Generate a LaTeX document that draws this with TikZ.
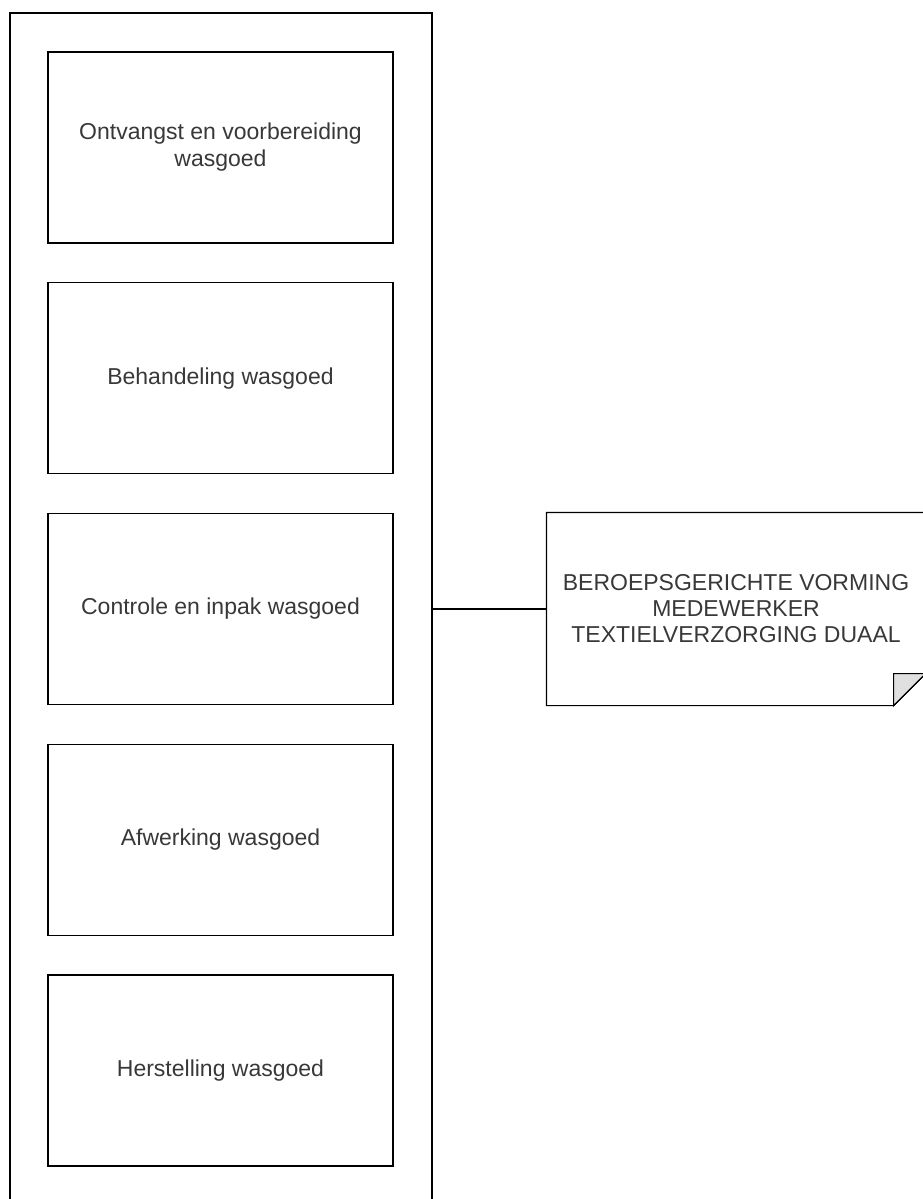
\documentclass[tikz,border=0pt]{standalone}
\usepackage{fontspec}
\setmainfont{Liberation Sans}
\usetikzlibrary{positioning,calc}

\begin{document}
\begin{tikzpicture}[x=1pt,y=-1pt,line width=1.2pt,
  box/.style={draw,minimum width=345pt,minimum height=191pt,align=center,
    font=\fontsize{23}{27}\selectfont,text=black!78},
  notetext/.style={minimum width=378pt,minimum height=192pt,align=center,
    font=\fontsize{23}{26}\selectfont,text=black!78}]
\useasboundingbox (0,0) rectangle (923,1199);
\node [draw,minimum width=422pt,minimum height=1192pt] (lane) at (221,609) {};
\node [box] (ontvangst) at (220.5,147.5) {Ontvangst en voorbereiding\\wasgoed};
\node [box] (behandeling) at (220.5,378.25) {Behandeling wasgoed};
\node [box] (controle) at (220.5,609) {Controle en inpak wasgoed};
\node [box] (afwerking) at (220.5,839.75) {Afwerking wasgoed};
\node [box] (herstelling) at (220.5,1070.5) {Herstelling wasgoed};
\node [notetext] (vorming) at (736,609) {BEROEPSGERICHTE VORMING\\MEDEWERKER\\TEXTIELVERZORGING DUAAL};
% note outline with folded corner
\draw (vorming.north west) -- (vorming.north east)
  -- ($(vorming.south east)+(0,-32)$) -- ($(vorming.south east)+(-32,0)$)
  -- (vorming.south west) -- cycle;
\draw [fill=black!12] ($(vorming.south east)+(-32,-32)$) -- ($(vorming.south east)+(0,-32)$)
  -- ($(vorming.south east)+(-32,0)$) -- cycle;
\draw (lane.east) -- (vorming.west);
\end{tikzpicture}
\end{document}
